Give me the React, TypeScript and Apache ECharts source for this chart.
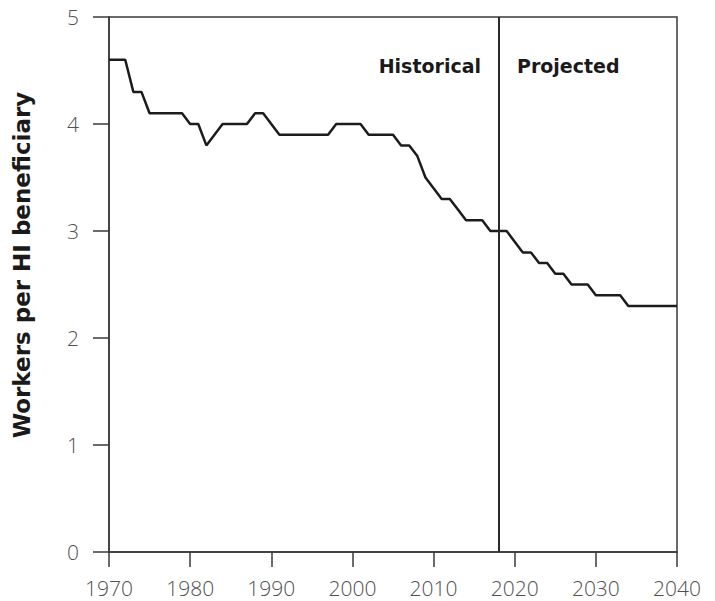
import React, { useEffect, useRef } from "react";
import * as echarts from "echarts";

const years: number[] = [
  1970, 1971, 1972, 1973, 1974, 1975, 1976, 1977, 1978, 1979,
  1980, 1981, 1982, 1983, 1984, 1985, 1986, 1987, 1988, 1989,
  1990, 1991, 1992, 1993, 1994, 1995, 1996, 1997, 1998, 1999,
  2000, 2001, 2002, 2003, 2004, 2005, 2006, 2007, 2008, 2009,
  2010, 2011, 2012, 2013, 2014, 2015, 2016, 2017, 2018, 2019,
  2020, 2021, 2022, 2023, 2024, 2025, 2026, 2027, 2028, 2029,
  2030, 2031, 2032, 2033, 2034, 2035, 2036, 2037, 2038, 2039, 2040,
];

const workersPerBeneficiary: number[] = [
  4.6, 4.6, 4.6, 4.3, 4.3, 4.1, 4.1, 4.1, 4.1, 4.1,
  4.0, 4.0, 3.8, 3.9, 4.0, 4.0, 4.0, 4.0, 4.1, 4.1,
  4.0, 3.9, 3.9, 3.9, 3.9, 3.9, 3.9, 3.9, 4.0, 4.0,
  4.0, 4.0, 3.9, 3.9, 3.9, 3.9, 3.8, 3.8, 3.7, 3.5,
  3.4, 3.3, 3.3, 3.2, 3.1, 3.1, 3.1, 3.0, 3.0, 3.0,
  2.9, 2.8, 2.8, 2.7, 2.7, 2.6, 2.6, 2.5, 2.5, 2.5,
  2.4, 2.4, 2.4, 2.4, 2.3, 2.3, 2.3, 2.3, 2.3, 2.3, 2.3,
];

const dividerYear = 2018;
const leftLabel = "Historical";
const rightLabel = "Projected";
const yAxisTitle = "Workers per HI beneficiary";

const AXIS_COLOR = "#3a3a3a";
const LABEL_FONT = "'Open Sans', 'Lato', 'DejaVu Sans', sans-serif";
const BOLD_FONT = "'DejaVu Sans', 'Lato', sans-serif";

export default function App() {
  const ref = useRef<HTMLDivElement>(null);

  useEffect(() => {
    if (!ref.current) return;
    const chart = echarts.init(ref.current, undefined, { renderer: "svg" });
    const data = years.map((y, i) => [y, workersPerBeneficiary[i]]);
    chart.setOption({
      animation: false,
      backgroundColor: "#ffffff",
      grid: {
        left: 109,
        right: 38,
        top: 17,
        bottom: 49,
        show: true,
        borderColor: AXIS_COLOR,
        borderWidth: 1.5,
        containLabel: false,
      },
      xAxis: {
        type: "value",
        min: 1970,
        max: 2040,
        interval: 10,
        splitLine: { show: false },
        axisLine: { show: true, lineStyle: { color: AXIS_COLOR, width: 1.5 } },
        axisTick: { show: true, length: 15, lineStyle: { color: AXIS_COLOR, width: 1.5 } },
        axisLabel: {
          margin: 25,
          color: "#505050",
          fontSize: 21,
          fontFamily: LABEL_FONT,
          fontWeight: 300,
          formatter: (v: number) => String(v),
        },
      },
      yAxis: {
        type: "value",
        min: 0,
        max: 5,
        interval: 1,
        splitLine: { show: false },
        axisLine: { show: true, lineStyle: { color: AXIS_COLOR, width: 1.5 } },
        axisTick: { show: true, length: 16, lineStyle: { color: AXIS_COLOR, width: 1.5 } },
        axisLabel: {
          margin: 30,
          color: "#505050",
          fontSize: 21,
          fontFamily: LABEL_FONT,
          fontWeight: 300,
        },
      },
      graphic: [
        {
          type: "text",
          x: 22,
          y: 265,
          rotation: Math.PI / 2,
          style: {
            text: yAxisTitle,
            fill: "#1a1a1a",
            font: `bold 23px ${BOLD_FONT}`,
            align: "center",
            verticalAlign: "middle",
          },
        },
        {
          type: "text",
          x: 481,
          y: 66,
          style: {
            text: leftLabel,
            fill: "#1a1a1a",
            font: `bold 19px ${BOLD_FONT}`,
            align: "right",
            verticalAlign: "middle",
          },
        },
        {
          type: "text",
          x: 517,
          y: 66,
          style: {
            text: rightLabel,
            fill: "#1a1a1a",
            font: `bold 19px ${BOLD_FONT}`,
            align: "left",
            verticalAlign: "middle",
          },
        },
      ],
      series: [
        {
          type: "line",
          data,
          showSymbol: false,
          symbol: "none",
          lineStyle: { color: "#1c1c1c", width: 2.5 },
          markLine: {
            silent: true,
            symbol: "none",
            label: { show: false },
            lineStyle: { color: "#2a2a2a", width: 2, type: "solid" },
            data: [{ xAxis: dividerYear }],
          },
        },
      ],
    });
    return () => chart.dispose();
  }, []);

  return (
    <div
      ref={ref}
      style={{ position: "fixed", left: 0, top: 0, width: 715, height: 601, background: "#fff" }}
    />
  );
}
